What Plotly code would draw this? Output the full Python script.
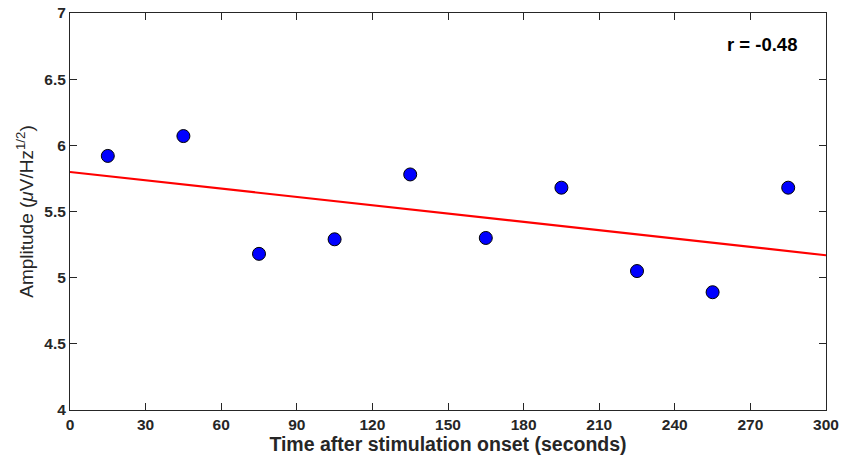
import numpy as np
import plotly.graph_objects as go

time_s = [15, 45, 75, 105, 135, 165, 195, 225, 255, 285]
amplitude = [5.92, 6.07, 5.18, 5.29, 5.78, 5.30, 5.68, 5.05, 4.89, 5.68]
x_ticks = [0, 30, 60, 90, 120, 150, 180, 210, 240, 270, 300]
y_ticks = [4, 4.5, 5, 5.5, 6, 6.5, 7]
y_tick_text = ["4", "4.5", "5", "5.5", "6", "6.5", "7"]
r_label = "r = -0.48"

slope, intercept = np.polyfit(time_s, amplitude, 1)
fit_x = [0, 300]
fit_y = [intercept + slope * v for v in fit_x]

fig = go.Figure()
fig.add_trace(go.Scatter(x=fit_x, y=fit_y, mode="lines",
                         line=dict(color="red", width=2.2), showlegend=False))
fig.add_trace(go.Scatter(x=time_s, y=amplitude, mode="markers",
                         marker=dict(color="blue", size=13,
                                     line=dict(color="black", width=1)),
                         showlegend=False))

font_fam = "Liberation Sans, Arial, Helvetica, sans-serif"
axis_col = "#262626"
common = dict(showgrid=False, zeroline=False, showline=True, linecolor=axis_col,
              linewidth=1, mirror="ticks", ticks="inside", ticklen=7,
              tickcolor=axis_col, tickwidth=1, automargin=False)

fig.update_xaxes(range=[0, 300], tickvals=x_ticks, **common,
                 tickfont=dict(family=font_fam, size=15.5, color=axis_col, weight="bold"),
                 title=dict(text="<b>Time after stimulation onset (seconds)</b>",
                            font=dict(family=font_fam, size=19.5, color=axis_col),
                            standoff=0))
fig.update_yaxes(range=[4, 7], tickvals=y_ticks, ticktext=y_tick_text, **common,
                 tickfont=dict(family=font_fam, size=15.5, color=axis_col, weight="bold"),
                 title=dict(text="Amplitude (<i>μ</i>V/Hz<sup>1/2</sup>)",
                            font=dict(family=font_fam, size=19, color=axis_col),
                            standoff=5))

fig.add_annotation(x=0.915, y=0.92, xref="paper", yref="paper", text="<b>" + r_label + "</b>",
                   xanchor="center", yanchor="middle",
                   showarrow=False, font=dict(family=font_fam, size=18.5, color="black"))

fig.update_layout(width=842, height=458, margin=dict(l=70, r=16, t=13, b=48),
                  plot_bgcolor="white", paper_bgcolor="white")

fig.write_html("out.html")
